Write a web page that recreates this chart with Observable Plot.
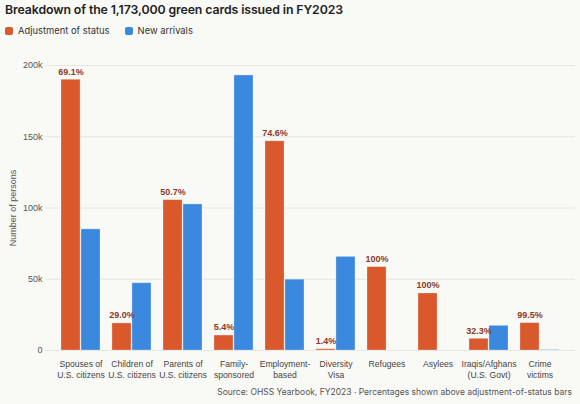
<!DOCTYPE html>
<html>
<head>
<meta charset="utf-8">
<script src="https://cdn.jsdelivr.net/npm/d3@7"></script>
<script src="https://cdn.jsdelivr.net/npm/@observablehq/plot@0.6"></script>
<style>
  html, body { margin: 0; padding: 0; background: #f9f9f6; }
  body { width: 580px; height: 404px; overflow: hidden; font-family: Inter, "Noto Sans", sans-serif; }
  #title { position: absolute; left: 5px; top: 2px; font-size: 12.3px; font-weight: 600; color: #222; letter-spacing: -0.1px; }
  #legend { position: absolute; left: 5px; top: 25px; font-size: 9.4px; color: #333; display: flex; align-items: center; }
  .item { display: flex; align-items: center; margin-right: 15px; }
  .sw { width: 8px; height: 8px; border-radius: 2px; margin-right: 5px; }
  #chart { position: absolute; left: 0; top: 44px; }
  #caption { position: absolute; right: 8px; top: 387px; font-size: 8.5px; color: #555; }
</style>
</head>
<body>
<div id="title">Breakdown of the 1,173,000 green cards issued in FY2023</div>
<div id="legend"></div>
<div id="chart"></div>
<div id="caption">Source: OHSS Yearbook, FY2023 · Percentages shown above adjustment-of-status bars</div>
<script>
const categories = [
  "Spouses of\nU.S. citizens", "Children of\nU.S. citizens", "Parents of\nU.S. citizens",
  "Family-\nsponsored", "Employment-\nbased", "Diversity\nVisa", "Refugees", "Asylees",
  "Iraqis/Afghans\n(U.S. Govt)", "Crime\nvictims"
];
const adjustment = [190000, 19000, 105500, 10500, 146800, 900, 58500, 40000, 8200, 19200];
const arrivals   = [85000, 47200, 102500, 193000, 49700, 65700, 0, 0, 17300, 300];
const pctLabels  = ["69.1%", "29.0%", "50.7%", "5.4%", "74.6%", "1.4%", "100%", "100%", "32.3%", "99.5%"];
const series = ["Adjustment of status", "New arrivals"];
const colors = ["#d9582c", "#3a89de"];

const legend = document.getElementById("legend");
series.forEach((s, i) => {
  const it = document.createElement("div");
  it.className = "item";
  it.innerHTML = `<span class="sw" style="background:${colors[i]}"></span>${s}`;
  legend.appendChild(it);
});

const rowsA = categories.map((c, i) => ({category: c, value: adjustment[i], label: pctLabels[i]}));
const rowsN = categories.map((c, i) => ({category: c, value: arrivals[i]}));

const width = 580, height = 342, ml = 45, mr = 5, pad = 0.23;
const step = (width - ml - mr) / (categories.length + pad);
const bw = step * (1 - pad);

const chart = Plot.plot({
  width, height,
  marginLeft: ml, marginRight: mr, marginTop: 21, marginBottom: 36,
  style: {background: "transparent", fontFamily: "'Liberation Sans', Arial, sans-serif", fontSize: "8.5px", color: "#444"},
  x: {domain: categories, padding: pad, label: null},
  y: {domain: [0, 200000], label: null},
  marks: [
    Plot.gridY([0, 50000, 100000, 150000, 200000], {stroke: "#e6e6e3", strokeOpacity: 1}),
    Plot.axisY([0, 50000, 100000, 150000, 200000], {
      tickSize: 0, tickPadding: 3, fill: "#555", fontSize: 9,
      tickFormat: d => d === 0 ? "0" : (d / 1000) + "k",
      label: "Number of persons", labelAnchor: "center", labelArrow: "none", labelOffset: 36
    }),
    Plot.axisX({tickSize: 0, tickPadding: 9, fill: "#444", fontSize: 8.6, lineHeight: 1.25, label: null}),
    Plot.barY(rowsA, {x: "category", y: "value", fill: colors[0], insetRight: bw / 2, stroke: "#fff", strokeOpacity: 0.35, strokeWidth: 0.8}),
    Plot.barY(rowsN, {x: "category", y: "value", fill: colors[1], insetLeft: bw / 2, stroke: "#fff", strokeOpacity: 0.35, strokeWidth: 0.8}),
    Plot.text(rowsA, {x: "category", y: "value", text: "label", dx: -bw / 4, dy: -8, fill: "#8b3a2b", fontWeight: "bold", fontSize: 9})
  ]
});
document.getElementById("chart").appendChild(chart);
</script>
</body>
</html>
